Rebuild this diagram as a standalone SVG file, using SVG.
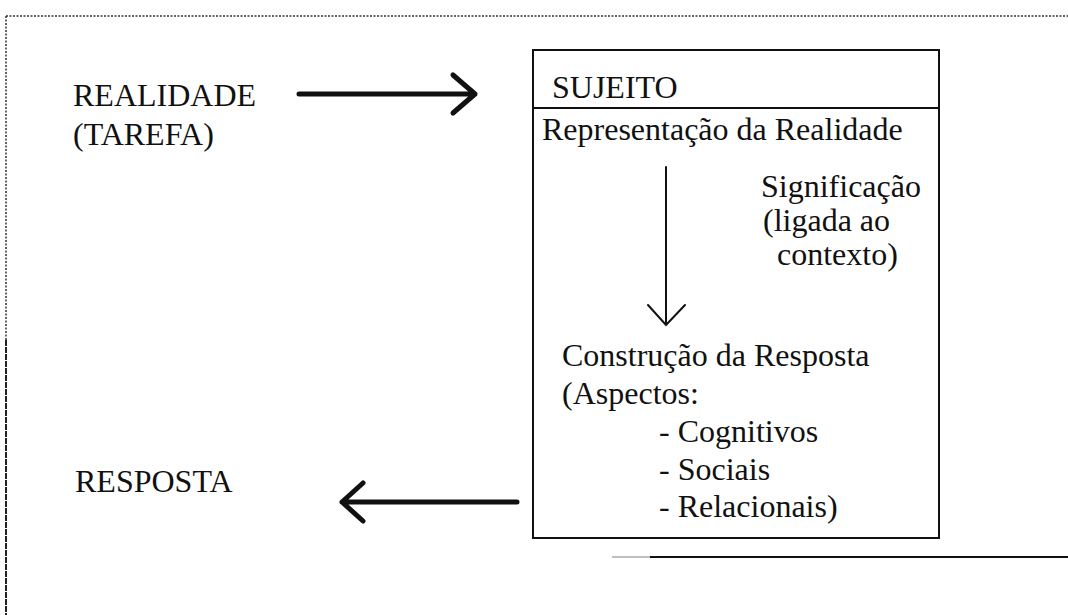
<svg xmlns="http://www.w3.org/2000/svg" width="1068" height="615" viewBox="0 0 1068 615">
<style>
text{font-family:"Liberation Serif","Times New Roman",serif;font-size:32px;fill:#111}
.frame{stroke:#333;stroke-width:1.5;fill:none;stroke-dasharray:2 1.5}
.box{stroke:#111;stroke-width:2;fill:none}
.thick{stroke:#111;stroke-width:5;fill:none;stroke-linecap:round;stroke-linejoin:round}
.thin{stroke:#111;stroke-width:2;fill:none;stroke-linecap:round}
</style>
<rect width="1068" height="615" fill="#fff"/>
<g id="frame">
<line class="frame" x1="6" y1="16" x2="1068" y2="16"/>
<line class="frame" x1="6" y1="16" x2="6" y2="340"/>
<line x1="6" y1="340" x2="6" y2="615" stroke="#222" stroke-width="2" stroke-dasharray="6 1"/>
<line x1="612" y1="557" x2="650" y2="557" stroke="#aaa" stroke-width="1.5"/>
<line x1="650" y1="557" x2="1068" y2="557" stroke="#111" stroke-width="2"/>
</g>
<g id="realidade">
<text x="73" y="106">REALIDADE</text>
<text x="73" y="145">(TAREFA)</text>
</g>
<g id="resposta">
<text x="75" y="492">RESPOSTA</text>
</g>
<g id="sujeito">
<rect class="box" x="533" y="50" width="406" height="488"/>
<line class="box" x1="533" y1="108" x2="939" y2="108"/>
<text x="552" y="98">SUJEITO</text>
<text x="542" y="140">Representação da Realidade</text>
<text x="761" y="197">Significação</text>
<text x="763" y="231">(ligada ao</text>
<text x="777" y="265">contexto)</text>
<text x="562" y="366">Construção da Resposta</text>
<text x="562" y="404">(Aspectos:</text>
<text x="659" y="442">- Cognitivos</text>
<text x="659" y="480">- Sociais</text>
<text x="659" y="517">- Relacionais)</text>
</g>
<g id="connectors">
<path class="thick" d="M299 94 H475 M453 75 L475 94 L453 113"/>
<path class="thin" d="M666 167 V325 M648 305 L666 325 L685 305"/>
<path class="thick" d="M517 502 H342 M363 483 L342 502 L363 521"/>
</g>
</svg>
